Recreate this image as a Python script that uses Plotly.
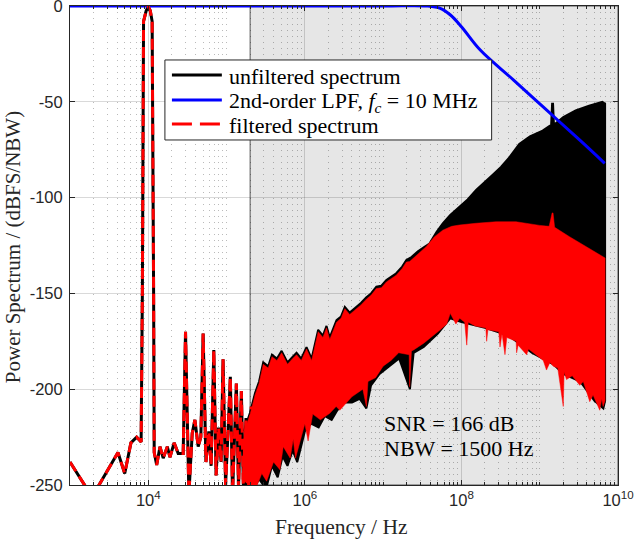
import plotly.graph_objects as go

# ---------------- data ----------------
# low-frequency part of the spectrum (unfiltered == filtered here)
f_lf = [1.00e3, 1.90e3, 2.20e3, 4.10e3, 5.00e3, 6.00e3, 7.10e3, 8.10e3, 8.40e3, 8.70e3,
        9.40e3, 1.00e4, 1.06e4, 1.12e4, 1.17e4, 1.19e4, 1.28e4, 1.41e4, 1.55e4, 1.75e4,
        1.89e4, 2.14e4, 2.41e4, 2.79e4, 2.99e4, 3.30e4, 3.64e4, 3.94e4, 4.34e4, 4.69e4,
        5.02e4, 5.45e4, 5.93e4, 6.35e4, 6.87e4, 7.35e4, 7.90e4, 8.51e4, 9.02e4, 9.71e4,
        1.045e5, 1.117e5, 1.192e5, 1.265e5, 1.333e5, 1.422e5, 1.545e5, 1.647e5, 1.770e5,
        1.879e5, 2.07e5]
p_lf = [-238, -256, -252, -233, -244, -228, -225, -227.5, -150, -8,
        -2.5, -0.3, -2.5, -8, -150, -233, -239.6, -230, -236, -230,
        -235.5, -228, -233.5, -233.5, -170, -255, -223, -216, -230, -225,
        -171, -238, -222, -240, -179.5, -245, -220, -238, -184.4, -250,
        -222, -193.5, -255, -226, -197, -252, -201, -255, -215,
        -258, -209]

# dense part: envelopes of the unfiltered spectrum
f_unf_up = [1.66e5, 2.00e5, 2.31e5, 2.60e5, 2.94e5, 3.40e5, 3.80e5, 4.40e5, 5.05e5, 5.60e5,
            6.00e5, 7.00e5, 7.83e5, 9.00e5, 1.05e6, 1.22e6, 1.48e6, 1.70e6, 1.89e6, 2.08e6,
            2.54e6, 2.90e6, 3.24e6, 3.74e6, 4.56e6, 5.20e6, 6.11e6, 7.00e6, 8.19e6, 9.50e6,
            1.10e7, 1.30e7, 1.47e7, 1.75e7, 1.98e7, 2.30e7, 2.78e7, 3.30e7, 3.91e7, 4.80e7,
            5.78e7, 7.20e7, 9.44e7, 1.20e8, 1.54e8, 2.00e8, 2.51e8, 3.20e8, 4.09e8, 5.48e8,
            7.50e8, 1.09e9, 1.40e9, 1.44e9, 1.48e9, 1.52e9, 2.00e9, 2.88e9, 4.27e9, 6.31e9,
            6.84e9]
p_unf_up = [-222, -212, -202, -196, -186, -188, -182, -184, -180, -184,
            -186, -183, -181, -184, -178, -184, -169, -172, -167, -173,
            -164, -162, -157, -160, -157, -155, -152, -150, -146.5, -146,
            -143, -141, -139.5, -136, -132.6, -131, -128, -126, -124, -118,
            -113.5, -109, -105, -101, -96, -92, -88, -84, -79, -72,
            -68, -65, -62, -51, -51, -62, -58, -54.5, -52, -50,
            -51]
f_unf_lo = [1.66e5, 2.00e5, 2.60e5, 3.20e5, 3.80e5, 4.50e5, 5.20e5, 6.00e5, 7.00e5, 8.00e5,
            1.00e6, 1.20e6, 1.50e6, 1.80e6, 2.20e6, 2.60e6, 3.20e6, 4.00e6, 5.00e6, 6.11e6,
            7.00e6, 9.00e6, 1.20e7, 1.60e7, 2.20e7, 2.45e7, 3.30e7, 5.00e7, 7.20e7, 1.00e8,
            2.00e8, 4.00e8, 8.00e8, 1.50e9, 2.00e9, 3.30e9, 5.00e9, 6.50e9, 6.84e9]
p_unf_lo = [-255, -255, -247, -252, -240, -246, -235, -240, -232, -238,
            -222, -218, -220, -214, -216, -211, -207, -207, -205, -210,
            -198, -192, -188, -184, -200, -181, -178, -171, -163, -165,
            -168, -172, -181, -187, -192, -196, -206, -210, -206]

# dense part: envelopes of the filtered spectrum
f_flt_up = [1.66e5, 2.00e5, 2.31e5, 2.60e5, 2.94e5, 3.40e5, 3.80e5, 4.40e5, 5.05e5, 5.60e5,
            6.00e5, 7.00e5, 7.83e5, 9.00e5, 1.05e6, 1.22e6, 1.48e6, 1.70e6, 1.89e6, 2.08e6,
            2.54e6, 2.90e6, 3.24e6, 3.74e6, 4.56e6, 5.20e6, 6.11e6, 7.00e6, 8.19e6, 9.50e6,
            1.10e7, 1.30e7, 1.47e7, 1.75e7, 1.98e7, 2.18e7, 2.80e7, 3.54e7, 4.50e7, 5.78e7,
            7.50e7, 9.44e7, 1.54e8, 2.77e8, 4.98e8, 6.68e8, 1.00e9, 1.32e9, 1.44e9, 1.48e9,
            1.55e9, 2.40e9, 3.92e9, 6.31e9, 6.84e9]
p_flt_up = [-223, -213, -203, -197, -187, -189, -183, -185, -181, -185,
            -187, -184, -182, -185, -179, -185, -170, -173, -168, -174,
            -165, -163, -158, -161, -158, -156, -153, -151, -147.5, -147,
            -144, -142, -140.5, -137, -133.6, -133.4, -129.5, -125.6, -120.5, -117,
            -115, -114.3, -113.4, -112.6, -112.6, -113.5, -114.5, -115, -108, -108,
            -115.5, -120.4, -125.6, -130.9, -131.5]
f_flt_lo = [1.56e5, 2.00e5, 2.30e5, 2.82e5, 3.25e5, 3.98e5, 4.80e5, 5.30e5, 6.50e5, 7.10e5,
            7.60e5, 8.50e5, 1.00e6, 1.10e6, 1.26e6, 1.58e6, 2.08e6, 2.51e6, 2.79e6, 3.98e6,
            5.50e6, 6.11e6, 6.40e6, 8.00e6, 1.00e7, 1.26e7, 1.58e7, 2.15e7, 2.18e7, 2.30e7,
            2.45e7, 3.30e7, 5.37e7, 6.50e7, 7.20e7, 8.50e7, 9.50e7, 1.10e8, 1.17e8, 1.22e8,
            1.50e8, 2.05e8, 2.10e8, 2.18e8, 3.00e8, 3.11e8, 3.30e8, 3.60e8, 3.80e8, 5.00e8,
            5.07e8, 5.30e8, 6.80e8, 7.20e8, 9.00e8, 1.11e9, 1.22e9, 1.35e9, 1.49e9, 1.70e9,
            2.00e9, 2.05e9, 2.20e9, 2.60e9, 3.25e9, 3.60e9, 4.36e9, 4.80e9, 5.85e9, 6.20e9,
            6.45e9, 6.84e9]
p_flt_lo = [-247, -250, -253, -244, -248, -238, -242, -230, -236, -226,
            -236, -228, -218, -227, -213, -216, -212.6, -209, -211, -204,
            -200, -209, -196, -194, -188, -185, -181, -182, -198.7, -180,
            -179.5, -176, -169, -166, -160.4, -166, -163, -165, -177, -165,
            -167, -168, -175, -169, -170, -178, -171, -182, -173, -175,
            -181, -177, -182, -179, -182, -185, -190, -186, -188, -189,
            -209, -191, -195, -193, -198, -196, -206.5, -203, -211, -205,
            -209, -206]

# 2nd-order low-pass filter response
f_lpf = [1.00e3, 1.00e5, 1.00e7, 3.63e7, 5.37e7, 7.24e7, 1.00e8, 1.74e8, 4.68e8,
         1.23e9, 3.31e9, 6.76e9]
p_lpf = [0, 0, 0, 0, -1.2, -4.7, -10.8, -23, -38.8, -54.4, -70.3, -82.1]

legend_names = ["unfiltered spectrum",
                "2nd-order LPF, <i>f</i><sub><i>c</i></sub> = 10 MHz",
                "filtered spectrum"]
x_ticks = [1e4, 1e6, 1e8, 1e10]
x_ticktext = ["10<sup>4</sup>", "10<sup>6</sup>", "10<sup>8</sup>", "10<sup>10</sup>"]
y_ticks = [-250, -200, -150, -100, -50, 0]
y_ticktext = ["-250", "-200", "-150", "-100", "-50", "0"]
shade_from = 2.0e5
shade_to = 1.0e10

SERIF = "Liberation Serif, Times New Roman, serif"
SANS = "Liberation Sans, Arial, sans-serif"
AX = "#262626"
RED_DASH = "11px,6px"

fig = go.Figure()

# unfiltered (black)
fig.add_trace(go.Scatter(x=f_lf, y=p_lf, mode="lines", name=legend_names[0],
                         line=dict(color="black", width=3)))
fig.add_trace(go.Scatter(x=f_unf_up + f_unf_lo[::-1], y=p_unf_up + p_unf_lo[::-1],
                         mode="lines", fill="toself", fillcolor="black",
                         line=dict(color="black", width=2), hoverinfo="skip"))
# LPF (blue)
fig.add_trace(go.Scatter(x=f_lpf, y=p_lpf, mode="lines", name=legend_names[1],
                         line=dict(color="#0000ff", width=3, shape="spline")))
# filtered (red dashed)
fig.add_trace(go.Scatter(x=f_lf, y=p_lf, mode="lines", name=legend_names[2],
                         line=dict(color="#ff0000", width=3, dash=RED_DASH)))
fig.add_trace(go.Scatter(x=f_flt_up + f_flt_lo[::-1], y=p_flt_up + p_flt_lo[::-1],
                         mode="lines", fill="toself", fillcolor="#ff0000",
                         line=dict(color="#ff0000", width=0.5), hoverinfo="skip"))

# shaded band
fig.add_shape(type="rect", xref="x", yref="paper", x0=shade_from, x1=shade_to, y0=0, y1=1,
              fillcolor="#e6e6e6", line=dict(color="#555555", width=1), layer="below")

# ---- legend box (drawn by hand so that its size matches the reference) ----
L_X0, L_X1, L_Y0, L_Y1 = 0.1732, 0.7694, 0.7203, 0.8873
fig.add_shape(type="rect", xref="paper", yref="paper", x0=L_X0, x1=L_X1, y0=L_Y0, y1=L_Y1,
              fillcolor="white", line=dict(color=AX, width=1), layer="above")
row_y = [0.856, 0.8038, 0.7537]
text_y = [0.8525, 0.8005, 0.750]
styles = [dict(color="black", width=3), dict(color="#0000ff", width=3),
          dict(color="#ff0000", width=3, dash="20px,8px")]
for ry, st in zip(row_y, styles):
    fig.add_shape(type="line", xref="paper", yref="paper", x0=0.186, x1=0.2771,
                  y0=ry, y1=ry, line=st, layer="above")
annots = []
for ty, name in zip(text_y, legend_names):
    annots.append(dict(xref="paper", yref="paper", x=0.2862, y=ty, xanchor="left",
                       yanchor="middle", showarrow=False, text=name,
                       font=dict(family=SERIF, size=22, color="black")))

annots += [
    dict(xref="paper", yref="paper", x=0.569, y=0.128, xanchor="left", yanchor="middle",
         showarrow=False, text="SNR = 166 dB", font=dict(family=SERIF, size=22, color="black")),
    dict(xref="paper", yref="paper", x=0.569, y=0.0772, xanchor="left", yanchor="middle",
         showarrow=False, text="NBW = 1500 Hz", font=dict(family=SERIF, size=22, color="black")),
    # axis titles
    dict(xref="paper", yref="paper", x=0.496, y=-0.0877, xanchor="center", yanchor="middle",
         showarrow=False, text="Frequency / Hz", font=dict(family=SERIF, size=21.5, color=AX)),
    dict(xref="paper", yref="paper", x=-0.1035, y=0.497, xanchor="center", yanchor="middle",
         showarrow=False, textangle=-90, text="Power Spectrum / (dBFS/NBW)", borderpad=0,
         font=dict(family=SERIF, size=21, color=AX)),
]

minor_vals = [k * 10 ** n for n in range(3, 10) for k in range(1, 10)
              if not (k == 1 and n % 2 == 0)]

fig.update_layout(
    width=634, height=541,
    margin=dict(l=70, r=16, t=6, b=56, autoexpand=False),
    paper_bgcolor="white", plot_bgcolor="white",
    showlegend=False,
    annotations=annots,
)

fig.update_xaxes(
    type="log", range=[3, 10], automargin=False,
    tickmode="array", tickvals=x_ticks, ticktext=x_ticktext,
    tickfont=dict(family=SANS, size=16.5, color=AX), ticklabeloverflow="allow",
    ticks="inside", ticklen=5, tickcolor=AX,
    showline=True, linecolor=AX, linewidth=1, mirror="ticks",
    showgrid=True, gridcolor="rgba(0,0,0,0.15)", gridwidth=1,
    zeroline=False,
    minor=dict(tickmode="array", tickvals=minor_vals, ticks="inside", ticklen=3,
               tickcolor=AX, showgrid=True, gridcolor="rgba(0,0,0,0.27)",
               griddash="1px,5px", gridwidth=1),
)
fig.update_yaxes(
    range=[-250, 0], automargin=False,
    tickmode="array", tickvals=y_ticks, ticktext=y_ticktext,
    tickfont=dict(family=SANS, size=16.5, color=AX), ticklabeloverflow="allow",
    ticklabelstandoff=3,
    ticks="inside", ticklen=5, tickcolor=AX,
    showline=True, linecolor=AX, linewidth=1, mirror="ticks",
    showgrid=True, gridcolor="rgba(0,0,0,0.15)", gridwidth=1,
    zeroline=False,
)

fig.write_html("out.html", config={"displayModeBar": False},
               post_script="document.body.style.margin='0';document.body.style.overflow='hidden';")
